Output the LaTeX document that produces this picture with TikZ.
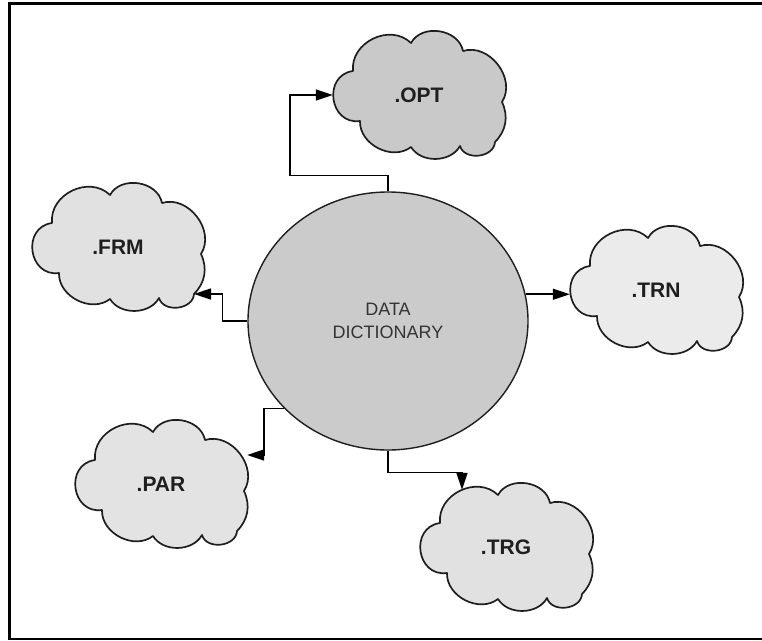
\documentclass[tikz,border=0pt]{standalone}
\usepackage{fontspec}
\setmainfont{Liberation Sans}
\usetikzlibrary{shapes.geometric,arrows.meta,backgrounds,calc}

\definecolor{inkc}{HTML}{1E1E1E}
\definecolor{hubfill}{HTML}{CBCBCB}
\definecolor{optfill}{HTML}{C9C9C9}
\definecolor{frmfill}{HTML}{E1E1E1}
\definecolor{trnfill}{HTML}{EBEBEB}
\definecolor{parfill}{HTML}{E3E3E3}
\definecolor{trgfill}{HTML}{E1E1E1}
\definecolor{hubtext}{HTML}{333333}

\tikzset{
  cloudbox/.style={minimum width=172pt, minimum height=128pt, inner sep=0pt,
    font=\fontsize{21}{25}\selectfont\bfseries, text=inkc},
  cloudline/.style={draw=inkc, line width=1.7pt, line join=round},
  hub/.style={ellipse, draw=inkc, line width=1.4pt, fill=hubfill,
    minimum width=280pt, minimum height=258pt, inner sep=0pt,
    align=center, text=hubtext, font=\fontsize{18}{23}\selectfont},
  conn/.style={draw=black, line width=1.5pt,
    -{Triangle[length=17pt, width=11pt]}},
}

% cloud outline around a named box node: eight puffs, cusps named #1-a ... #1-h
\newcommand{\cloudpath}[2]{%
  \begin{scope}[on background layer, shift={(#1.center)}]
    \path[cloudline, fill=#2]
      (-66,24) coordinate (#1-a)
      to[bend left=70, looseness=1.15] (-8,52) coordinate (#1-b)
      to[bend left=70, looseness=1.1] (44,44) coordinate (#1-c)
      to[bend left=70, looseness=1.1] (83,-7) coordinate (#1-d)
      to[bend left=35] (76,-47) coordinate (#1-e)
      to[bend left=80, looseness=1.15] (41,-51) coordinate (#1-f)
      to[bend left=60] (-8,-52) coordinate (#1-g)
      to[bend left=65, looseness=1.05] (-59,-26) coordinate (#1-h)
      to[bend left=90, looseness=1.57] (-66,24) -- cycle;
  \end{scope}}

\begin{document}
\begin{tikzpicture}[x=1pt, y=1pt]
  \useasboundingbox (0,0) rectangle (762,-640);

  % page frame
  \draw[black, line width=3pt] (9.5,-640) -- (9.5,-3.2) -- (762,-3.2);
  \draw[black, line width=1.4pt] (9.5,-639) -- (762,-639);

  % central store
  \node[hub] (dd) at (388,-321) {DATA\\DICTIONARY};

  % file clouds
  \node[cloudbox] (opt) at (419,-95)  {.OPT};
  \node[cloudbox] (frm) at (118,-247) {.FRM};
  \node[cloudbox] (trn) at (656,-290) {.TRN};
  \node[cloudbox] (par) at (161,-484) {.PAR};
  \node[cloudbox] (trg) at (506,-547) {.TRG};

  \cloudpath{opt}{optfill}
  \cloudpath{frm}{frmfill}
  \cloudpath{trn}{trnfill}
  \cloudpath{par}{parfill}
  \cloudpath{trg}{trgfill}

  % arrow entry points on the clouds
  \coordinate (par-in) at ([yshift=29pt]par.east);
  \coordinate (trg-in) at ([shift={(-44pt,-7pt)}]trg.north);

  % connectors
  \draw[conn] (dd.north) -- ++(0,16) -- ++(-98,0) |- (opt.west);
  \draw[conn] (dd.west) -- ++(-25,0) |- (frm-e);
  \draw[conn] (dd.11.6) -- (dd.11.6 -| trn.west);
  \draw[conn] (dd.220) -- ++(-20,0) |- (par-in);
  \draw[conn] (dd.south) -- ++(0,-22) -| (trg-in);
\end{tikzpicture}
\end{document}
